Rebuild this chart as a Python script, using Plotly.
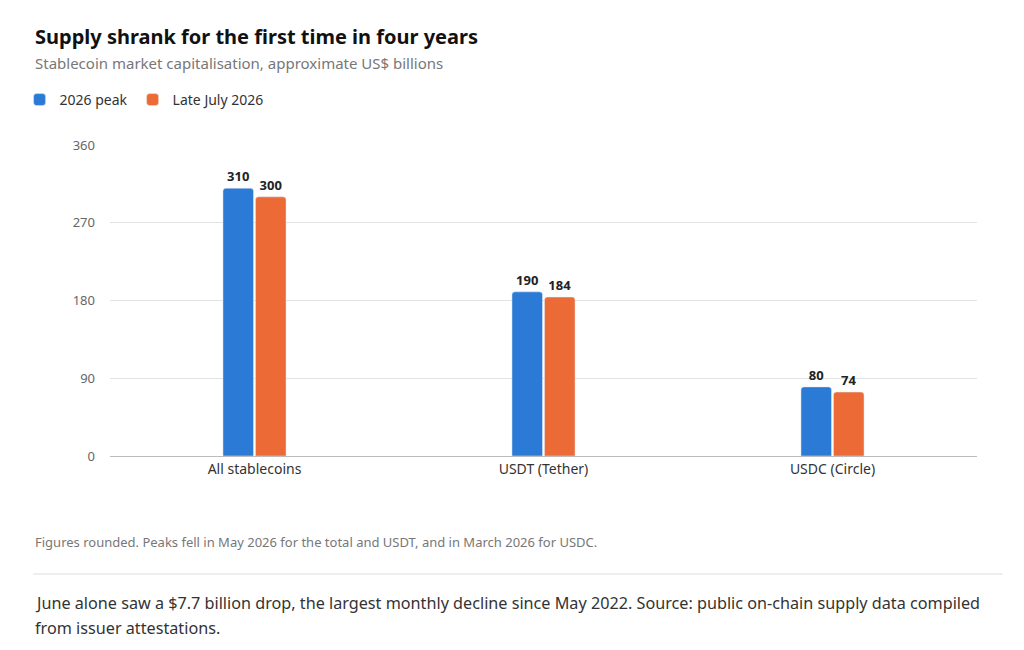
import plotly.graph_objects as go

categories = ["All stablecoins", "USDT (Tether)", "USDC (Circle)"]
peak = [310, 190, 80]
late_july = [300, 184, 74]
y_ticks = [0, 90, 180, 270, 360]

FONT = "Noto Sans"
fig = go.Figure()
fig.add_bar(x=categories, y=peak, name="2026 peak", marker_color="#2b7bd6",
            text=[str(v) for v in peak], textposition="outside",
            textfont=dict(size=13, color="#222", family=FONT, weight="bold"),
            marker_cornerradius=3, cliponaxis=False)
fig.add_bar(x=categories, y=late_july, name="Late July 2026", marker_color="#eb6a35",
            text=[str(v) for v in late_july], textposition="outside",
            textfont=dict(size=13, color="#222", family=FONT, weight="bold"),
            marker_cornerradius=3, cliponaxis=False)

fig.update_layout(
    width=1024, height=650, plot_bgcolor="white", paper_bgcolor="white",
    margin=dict(l=87, r=55, t=137, b=202),
    barmode="group", bargap=0.775, bargroupgap=0.06,
    font=dict(family=FONT, color="#333"),
    showlegend=True,
    legend=dict(orientation="h", x=(3 - 95) / 882, y=1 + (145 - 100) / 311, xanchor="left", yanchor="middle",
                font=dict(size=14, color="#333"), itemwidth=30, traceorder="normal"),
    xaxis=dict(showline=True, linecolor="#bbb", tickfont=dict(size=14, color="#333"), ticks=""),
    yaxis=dict(range=[0, 360], tickvals=y_ticks, gridcolor="#e3e3e3", zeroline=False,
               tickfont=dict(size=13, color="#666"), ticklabelstandoff=14),
)
ann = [
    dict(text="<b>Supply shrank for the first time in four years</b>", y=37, size=20, color="#111"),
    dict(text="Stablecoin market capitalisation, approximate US$ billions", y=63, size=15, color="#777"),
    dict(text="Figures rounded. Peaks fell in May 2026 for the total and USDT, and in March 2026 for USDC.", y=542, size=13, color="#777"),
    dict(text="June alone saw a $7.7 billion drop, the largest monthly decline since May 2022. Source: public on-chain supply data compiled", y=603, size=16.2, color="#333"),
    dict(text="from issuer attestations.", y=628, size=16.2, color="#333"),
]
for a in ann:
    fig.add_annotation(text=a["text"], xref="paper", yref="paper", x=-78 / 882, xanchor="left",
                       y=1 - (a["y"] - 145) / 311, yanchor="middle", showarrow=False,
                       font=dict(size=a["size"], color=a["color"], family=FONT))
fig.add_shape(type="line", xref="paper", yref="paper", x0=-78 / 882, x1=(1003 - 95) / 882,
              y0=1 - (574 - 145) / 311, y1=1 - (574 - 145) / 311, line=dict(color="#ddd", width=1))
fig.write_html("out.html")
